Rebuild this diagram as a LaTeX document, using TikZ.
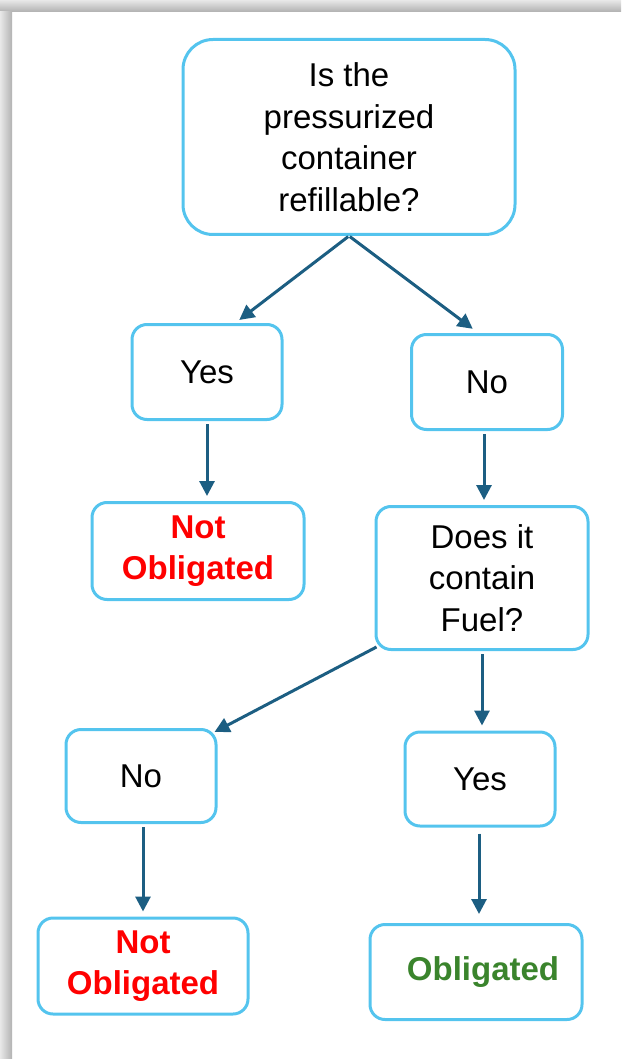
\documentclass[tikz,border=0pt]{standalone}
\usepackage{fontspec}
\setmainfont{Liberation Sans}
\usetikzlibrary{arrows.meta,positioning,calc}

\definecolor{boxblue}{RGB}{84,196,238}
\definecolor{arrowteal}{RGB}{28,94,130}
\definecolor{notred}{RGB}{255,0,0}
\definecolor{oblgreen}{RGB}{58,132,44}

\begin{document}
\begin{tikzpicture}[
    x=1pt, y=-1pt,
    >={Triangle[length=15pt,width=15pt]},
    box/.style={draw=boxblue, line width=3pt, rounded corners=15pt, align=center,
        inner sep=0pt, font=\fontsize{33}{41.5}\selectfont},
    arr/.style={->, draw=arrowteal, fill=arrowteal, line width=3pt,
        shorten <=3pt, shorten >=5pt},
]
\useasboundingbox (0,0) rectangle (621,1059);

% frame shadow
\shade[top color=gray!18, bottom color=gray!62] (0,0) rectangle (621,12);
\shade[left color=gray!18, right color=gray!60] (0,12) rectangle (12,1059);

% question
\node[box, rounded corners=30pt, minimum width=332, minimum height=195] (refill) at (349,137)
    {Is the\\pressurized\\container\\refillable?};

% first answers
\node[box, minimum width=150, minimum height=95] (yesA) at (207,372) {Yes};
\node[box, minimum width=151, minimum height=95] (noA) at (487,382) {No};

\node[box, minimum width=212, minimum height=97, text=notred, font=\fontsize{33}{41.5}\selectfont\bfseries]
    (notA) at (198,551) {Not\\Obligated};
\node[box, minimum width=212, minimum height=143] (fuel) at (482,578)
    {Does it\\contain\\Fuel?};

% second answers
\node[box, minimum width=150, minimum height=93] (noB) at (141,776) {No};
\node[box, minimum width=150, minimum height=94] (yesB) at (480,779) {Yes};

\node[box, minimum width=210, minimum height=96, text=notred, font=\fontsize{33}{41.5}\selectfont\bfseries]
    (notB) at (143,966) {Not\\Obligated};
\node[box, minimum width=212, minimum height=95, text=oblgreen, font=\fontsize{33}{41.5}\selectfont\bfseries]
    (obl) at (476,972) {\hspace*{14pt}Obligated};

% arrow start points
\coordinate (noAout) at ($(noA.south)+(-3,0)$);
\coordinate (noBout) at ($(noB.south)+(2,0)$);
\coordinate (yesBout) at ($(yesB.south)+(-1,0)$);
\coordinate (fuelout) at ($(fuel.south west)+(2,-4)$);
\coordinate (noBin) at ($(noB.north east)+(-3,4)$);

% arrows
\draw[arr, shorten <=1pt] (refill.south) -- (yesA.60);
\draw[arr, shorten <=1pt, shorten >=7pt] (refill.south) -- (noA.100);
\draw[arr] (yesA.south) -- (yesA.south |- notA.north);
\draw[arr] (noAout) -- (noAout |- fuel.north);
\draw[arr, shorten <=0pt, shorten >=0pt] (fuelout) -- (noBin);
\draw[arr] (fuel.south) -- (fuel.south |- yesB.north);
\draw[arr] (noBout) -- (noBout |- notB.north);
\draw[arr, shorten <=6pt, shorten >=9pt] (yesBout) -- (yesBout |- obl.north);

\end{tikzpicture}
\end{document}
